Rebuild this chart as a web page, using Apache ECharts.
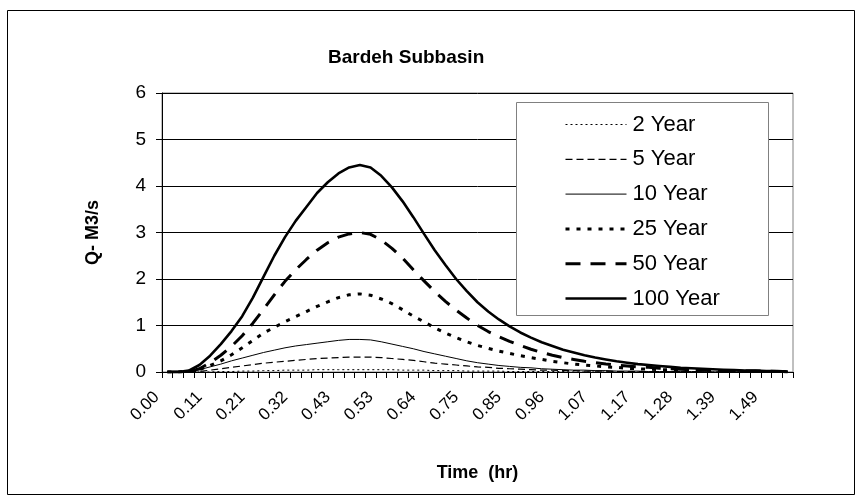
<!DOCTYPE html>
<html>
<head>
<meta charset="utf-8">
<script src="https://cdn.jsdelivr.net/npm/echarts@6/dist/echarts.min.js"></script>
<style>
  html, body { margin: 0; padding: 0; background: #fff; }
  #chart { width: 862px; height: 503px; }
</style>
</head>
<body>
<div id="chart"></div>
<script>
// time (hr), one category every 0.0267 hr
const times = [
  "0.00", "0.03", "0.05", "0.08", "0.11", "0.13", "0.16", "0.19", "0.21", "0.24",
  "0.27", "0.29", "0.32", "0.35", "0.37", "0.40", "0.43", "0.45", "0.48", "0.51",
  "0.53", "0.56", "0.59", "0.61", "0.64", "0.67", "0.69", "0.72", "0.75", "0.77",
  "0.80", "0.83", "0.85", "0.88", "0.91", "0.93", "0.96", "0.99", "1.01", "1.04",
  "1.07", "1.09", "1.12", "1.15", "1.17", "1.20", "1.23", "1.25", "1.28", "1.31",
  "1.33", "1.36", "1.39", "1.41", "1.44", "1.47", "1.49", "1.52", "1.55"
];

const yearNames = ["2 Year", "5 Year", "10 Year", "25 Year", "50 Year", "100 Year"];

const q2 = [
  0, 0, 0, 0, 0, 0.01, 0.01, 0.02, 0.02, 0.03,
  0.03, 0.04, 0.04, 0.04, 0.05, 0.05, 0.05, 0.05, 0.05, 0.05,
  0.05, 0.05, 0.04, 0.04, 0.04, 0.03, 0.03, 0.03, 0.02, 0.02,
  0.02, 0.02, 0.01, 0.01, 0.01, 0.01, 0.01, 0.01, 0, 0,
  0, 0, 0, 0, 0, 0, 0, 0, 0, 0,
  0, 0, 0, 0, 0, 0, 0, 0, 0
];
const q5 = [
  0, 0, 0, 0.01, 0.04, 0.07, 0.1, 0.13, 0.16, 0.19,
  0.21, 0.23, 0.25, 0.27, 0.29, 0.3, 0.31, 0.32, 0.32, 0.32,
  0.31, 0.29, 0.27, 0.25, 0.22, 0.19, 0.17, 0.15, 0.13, 0.11,
  0.1, 0.08, 0.07, 0.06, 0.05, 0.04, 0.04, 0.03, 0.03, 0.02,
  0.02, 0.02, 0.01, 0.01, 0.01, 0.01, 0.01, 0, 0, 0,
  0, 0, 0, 0, 0, 0, 0, 0, 0
];
const q10 = [
  0, 0, 0.01, 0.05, 0.11, 0.17, 0.24, 0.3, 0.36, 0.42,
  0.47, 0.52, 0.56, 0.59, 0.62, 0.65, 0.68, 0.7, 0.7, 0.69,
  0.65, 0.6, 0.55, 0.5, 0.44, 0.39, 0.34, 0.29, 0.24, 0.2,
  0.17, 0.14, 0.12, 0.1, 0.09, 0.07, 0.06, 0.05, 0.04, 0.04,
  0.03, 0.03, 0.02, 0.02, 0.02, 0.01, 0.01, 0.01, 0.01, 0.01,
  0.01, 0, 0, 0, 0, 0, 0, 0, 0
];
const q25 = [
  0, 0, 0.01, 0.05, 0.14, 0.24, 0.37, 0.52, 0.68, 0.84,
  0.96, 1.08, 1.19, 1.3, 1.41, 1.51, 1.6, 1.66, 1.68, 1.65,
  1.57, 1.47, 1.34, 1.2, 1.08, 0.95, 0.84, 0.74, 0.65, 0.57,
  0.51, 0.45, 0.4, 0.35, 0.31, 0.27, 0.23, 0.2, 0.17, 0.15,
  0.13, 0.11, 0.1, 0.08, 0.07, 0.06, 0.05, 0.05, 0.04, 0.03,
  0.03, 0.02, 0.02, 0.02, 0.01, 0.01, 0.01, 0.01, 0
];
const q50 = [
  0, 0, 0.01, 0.07, 0.2, 0.36, 0.55, 0.78, 1.05, 1.35,
  1.66, 1.95, 2.2, 2.42, 2.62, 2.78, 2.9, 2.97, 3.0, 2.96,
  2.84, 2.66, 2.45, 2.2, 1.96, 1.73, 1.52, 1.33, 1.16, 1.0,
  0.87, 0.76, 0.66, 0.57, 0.49, 0.42, 0.36, 0.31, 0.27, 0.23,
  0.2, 0.17, 0.15, 0.13, 0.11, 0.1, 0.08, 0.07, 0.06, 0.05,
  0.05, 0.04, 0.03, 0.03, 0.02, 0.02, 0.02, 0.01, 0.01
];
const q100 = [
  0, 0, 0.03, 0.15, 0.35, 0.6, 0.88, 1.2, 1.6, 2.05,
  2.5, 2.9, 3.25, 3.55, 3.85, 4.08, 4.27, 4.4, 4.45, 4.4,
  4.22, 3.97, 3.67, 3.33, 2.97, 2.62, 2.3, 2.0, 1.74, 1.5,
  1.3, 1.13, 0.98, 0.85, 0.74, 0.64, 0.56, 0.48, 0.42, 0.36,
  0.31, 0.27, 0.23, 0.2, 0.17, 0.15, 0.13, 0.11, 0.09, 0.08,
  0.07, 0.06, 0.05, 0.04, 0.03, 0.03, 0.02, 0.02, 0.01
];

const yTicks = [0, 1, 2, 3, 4, 5, 6];

const FONT = "'Liberation Sans', Arial, sans-serif";

// line looks, one per return period
const lineLooks = [
  { width: 1, type: [2, 3] },
  { width: 1.2, type: [7, 4] },
  { width: 1, type: "solid" },
  { width: 3, type: [4, 7] },
  { width: 3, type: [15, 10] },
  { width: 2.6, type: "solid" }
];
const allData = [q2, q5, q10, q25, q50, q100];

const series = yearNames.map((name, k) => ({
  name: name,
  type: "line",
  data: allData[k],
  symbol: "none",
  smooth: false,
  animation: false,
  color: "#000",
  lineStyle: { color: "#000", width: lineLooks[k].width, type: lineLooks[k].type }
}));

const chart = echarts.init(document.getElementById("chart"));
chart.setOption({
  backgroundColor: "#fff",
  animation: false,
  textStyle: { fontFamily: FONT, color: "#000" },
  graphic: [
    {
      type: "rect",
      shape: { x: 7.5, y: 10.5, width: 847, height: 484 },
      style: { fill: "none", stroke: "#000", lineWidth: 1 },
      z: -10
    },
    {
      type: "rect",
      shape: { x: 516.5, y: 102.5, width: 252, height: 213 },
      style: { fill: "#fff", stroke: "#808080", lineWidth: 1 },
      z: 50
    }
  ],
  title: {
    text: "Bardeh Subbasin",
    left: 323,
    top: 43,
    textStyle: { fontFamily: FONT, fontSize: 19, fontWeight: "bold", color: "#000" }
  },
  legend: {
    orient: "vertical",
    left: 564,
    top: 113.5,
    padding: 0,
    z: 60,
    itemWidth: 61,
    itemHeight: 14,
    itemGap: 12.8,
    data: yearNames,
    itemStyle: { opacity: 0 },
    textStyle: {
      fontFamily: FONT,
      fontSize: 22,
      lineHeight: 21,
      color: "#000",
      padding: [0, 0, 0, 1]
    },
    lineStyle: { type: "inherit", width: "inherit" }
  },
  grid: {
    left: 162,
    top: 93,
    right: 69,
    bottom: 131,
    show: true,
    borderColor: "#808080",
    borderWidth: 1,
    backgroundColor: "transparent"
  },
  xAxis: {
    type: "category",
    data: times,
    boundaryGap: true,
    name: "Time  (hr)",
    nameLocation: "middle",
    nameGap: 92,
    nameTextStyle: { fontFamily: FONT, fontSize: 18, fontWeight: "bold", color: "#000" },
    axisLine: { lineStyle: { color: "#000", width: 1 } },
    axisTick: { show: true, interval: 0, length: 6, lineStyle: { color: "#000" } },
    axisLabel: {
      interval: 3,
      rotate: 45,
      margin: 12,
      padding: [0, 15, 0, 0],
      fontFamily: FONT,
      fontSize: 17,
      color: "#000"
    },
    splitLine: { show: false }
  },
  yAxis: {
    type: "value",
    min: yTicks[0],
    max: yTicks[yTicks.length - 1],
    interval: 1,
    name: "Q- M3/s",
    nameLocation: "middle",
    nameGap: 60,
    nameTextStyle: { fontFamily: FONT, fontSize: 18, fontWeight: "bold", color: "#000" },
    axisLine: { show: true, lineStyle: { color: "#000", width: 1 } },
    axisTick: { show: true, length: 6, lineStyle: { color: "#000" } },
    axisLabel: { margin: 16, fontFamily: FONT, fontSize: 19, color: "#000" },
    splitLine: { show: true, lineStyle: { color: "#000", width: 1 } }
  },
  series: series
});
</script>
</body>
</html>
